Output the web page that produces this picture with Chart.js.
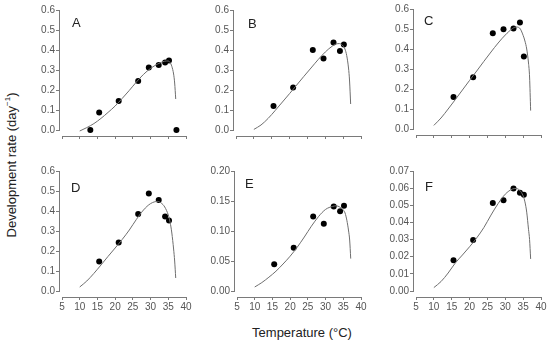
<!DOCTYPE html>
<html>
<head>
<meta charset="utf-8">
<script src="https://cdn.jsdelivr.net/npm/chart.js@4.4.0/dist/chart.umd.min.js"></script>
<style>
  body { margin: 0; background: #fff; width: 550px; height: 343px; position: relative; overflow: hidden;
         font-family: "Liberation Sans", Arial, sans-serif; }
  canvas { position: absolute; }
  .title { position: absolute; white-space: nowrap; font-size: 13px; color: #222; }
  #ytitle { left: 11px; top: 165px; transform: translate(-50%, -50%) rotate(-90deg); }
  #xtitle { left: 302px; top: 332px; transform: translate(-50%, -50%); }
  sup { font-size: 8px; }
</style>
</head>
<body>
<div id="ytitle" class="title">Development rate (day<sup>−1</sup>)</div>
<div id="xtitle" class="title">Temperature (°C)</div>

<script>
// observed temperatures (°C)
const obsTemp = [15.5, 21, 26.5, 29.5, 32.3, 34.1, 35.2];
const obsTempA = [13, 15.5, 21, 26.5, 29.5, 32.3, 34.1, 35.2, 37.3];

// observed development rates
const rateA = [0, 0.087, 0.145, 0.245, 0.313, 0.325, 0.338, 0.347, 0];
const rateB = [0.12, 0.213, 0.40, 0.358, 0.437, 0.395, 0.428];
const rateC = [0.160, 0.259, 0.479, 0.499, 0.502, 0.532, 0.362];
const rateD = [0.147, 0.243, 0.385, 0.488, 0.455, 0.372, 0.352];
const rateE = [0.0444, 0.0722, 0.124, 0.112, 0.141, 0.133, 0.142];
const rateF = [0.0179, 0.0298, 0.0513, 0.0529, 0.0598, 0.0573, 0.0562];

// fitted curves
const fitTemp = [10, 12, 14, 16, 18, 20, 22, 24, 26, 28, 30, 32, 33, 34, 35, 35.5, 36, 36.5, 36.8, 37.1];
const fitA = [-0.005, 0.012, 0.032, 0.058, 0.088, 0.12, 0.158, 0.198, 0.24, 0.278, 0.308, 0.330, 0.338, 0.344, 0.345, 0.338, 0.318, 0.28, 0.235, 0.155];
const fitB = [0.003, 0.025, 0.058, 0.098, 0.14, 0.182, 0.225, 0.268, 0.31, 0.352, 0.39, 0.42, 0.43, 0.432, 0.42, 0.405, 0.372, 0.31, 0.245, 0.13];
const fitC = [0.018, 0.055, 0.1, 0.147, 0.195, 0.243, 0.29, 0.338, 0.385, 0.43, 0.47, 0.502, 0.51, 0.505, 0.468, 0.44, 0.4, 0.33, 0.26, 0.092];
const fitD = [0.02, 0.05, 0.088, 0.13, 0.173, 0.215, 0.258, 0.305, 0.358, 0.405, 0.437, 0.448, 0.44, 0.42, 0.38, 0.345, 0.29, 0.21, 0.15, 0.065];
const fitE = [0.0067, 0.014, 0.023, 0.033, 0.045, 0.058, 0.073, 0.09, 0.108, 0.124, 0.136, 0.141, 0.142, 0.14, 0.135, 0.13, 0.118, 0.1, 0.085, 0.054];
const fitF = [0.002, 0.0055, 0.0105, 0.0163, 0.021, 0.0258, 0.031, 0.037, 0.0443, 0.051, 0.0565, 0.0595, 0.0598, 0.0588, 0.0555, 0.052, 0.046, 0.036, 0.03, 0.0187];

// y axis ranges
const yMaxes = [0.6, 0.6, 0.6, 0.6, 0.2, 0.07];
const ySteps = [0.1, 0.1, 0.1, 0.1, 0.05, 0.01];
const yDecimals = [1, 1, 1, 1, 2, 2];
const letters = ['A', 'B', 'C', 'D', 'E', 'F'];

const panels = [
  { t: obsTempA, r: rateA, f: fitA, axisX: 59, x5: 62, x40: 186, yTop: 10, y0: 130, xAxis: 136, showX: false, lx: 13, ly: 13 },
  { t: obsTemp, r: rateB, f: fitB, axisX: 233, x5: 236, x40: 361, yTop: 10, y0: 130, xAxis: 136, showX: false, lx: 15, ly: 14 },
  { t: obsTemp, r: rateC, f: fitC, axisX: 413, x5: 416, x40: 541, yTop: 9, y0: 129, xAxis: 135, showX: false, lx: 11, ly: 12 },
  { t: obsTemp, r: rateD, f: fitD, axisX: 59, x5: 62, x40: 186, yTop: 171, y0: 291, xAxis: 297, showX: true, lx: 12, ly: 17 },
  { t: obsTemp, r: rateE, f: fitE, axisX: 234, x5: 237, x40: 361, yTop: 171, y0: 291, xAxis: 297, showX: true, lx: 11, ly: 13 },
  { t: obsTemp, r: rateF, f: fitF, axisX: 413, x5: 416, x40: 541, yTop: 171, y0: 291, xAxis: 297, showX: true, lx: 12, ly: 16 }
];

const AXIS = '#7a7a7a';
const TICKTXT = '#555';
const Wy = 34, Hx = 22, padT = 12, padR = 10;

// detached axis lines + panel letter
const frame = {
  id: 'frame',
  afterDraw(chart, args, opts) {
    const { ctx, chartArea, scales: { x, y } } = chart;
    ctx.save();
    ctx.strokeStyle = AXIS;
    ctx.lineWidth = 1;
    ctx.beginPath();
    const ax = Math.round(chartArea.left) + 0.5;
    ctx.moveTo(ax, Math.round(y.getPixelForValue(opts.ymax)));
    ctx.lineTo(ax, Math.round(y.getPixelForValue(0)) + 1);
    const ay = Math.round(chartArea.bottom) + 0.5;
    ctx.moveTo(Math.round(x.getPixelForValue(5)), ay);
    ctx.lineTo(Math.round(x.getPixelForValue(40)) + 1, ay);
    ctx.stroke();
    ctx.fillStyle = '#222';
    ctx.font = '13px "Liberation Sans", Arial, sans-serif';
    ctx.textBaseline = 'middle';
    ctx.fillText(opts.letter, chartArea.left + opts.lx, chartArea.top + opts.ly);
    ctx.restore();
  }
};

panels.forEach((p, i) => {
  const ymax = yMaxes[i];
  const ppu = (p.x40 - p.x5) / 35;
  const xmin = 5 - (p.x5 - p.axisX) / ppu;
  const ppv = (p.y0 - p.yTop) / ymax;
  const ymin = -(p.xAxis - p.y0) / ppv;

  const cv = document.createElement('canvas');
  const w = Wy + (p.x40 - p.axisX) + padR;
  const h = padT + (p.xAxis - p.yTop) + Hx;
  cv.width = w; cv.height = h;
  cv.style.left = (p.axisX - Wy) + 'px';
  cv.style.top = (p.yTop - padT) + 'px';
  document.body.appendChild(cv);

  new Chart(cv, {
    type: 'scatter',
    data: {
      datasets: [
        {
          data: fitTemp.map((t, k) => ({ x: t, y: p.f[k] })),
          showLine: true,
          borderColor: '#6e6e6e',
          borderWidth: 1,
          pointRadius: 0,
          cubicInterpolationMode: 'monotone'
        },
        {
          data: p.t.map((t, k) => ({ x: t, y: p.r[k] })),
          backgroundColor: '#000',
          borderColor: '#000',
          pointRadius: 3,
          borderWidth: 0
        }
      ]
    },
    options: {
      responsive: false,
      animation: false,
      layout: { padding: { top: padT, right: padR, left: 0, bottom: 0 } },
      plugins: {
        legend: { display: false },
        tooltip: { enabled: false },
        frame: { ymax: ymax, letter: letters[i], lx: p.lx, ly: p.ly }
      },
      scales: {
        x: {
          type: 'linear',
          min: xmin,
          max: 40,
          afterBuildTicks: s => { s.ticks = s.ticks.filter(t => t.value >= 5 - 1e-6); },
          afterFit: s => { s.height = Hx; },
          ticks: {
            stepSize: 5,
            includeBounds: false,
            padding: 1,
            color: TICKTXT,
            font: { size: 10, family: '"Liberation Sans", Arial, sans-serif' },
            maxRotation: 0,
            autoSkip: false,
            callback: v => p.showX ? String(v) : ''
          },
          grid: { drawOnChartArea: false, drawTicks: true, tickLength: 3, color: AXIS },
          border: { display: false }
        },
        y: {
          min: ymin,
          max: ymax,
          afterBuildTicks: s => { s.ticks = s.ticks.filter(t => t.value >= -1e-6); },
          afterFit: s => { s.width = Wy; },
          ticks: {
            stepSize: ySteps[i],
            includeBounds: false,
            padding: 1,
            color: TICKTXT,
            font: { size: 10, family: '"Liberation Sans", Arial, sans-serif' },
            autoSkip: false,
            callback: v => Number(v).toFixed(yDecimals[i])
          },
          grid: { drawOnChartArea: false, drawTicks: true, tickLength: 3, color: AXIS },
          border: { display: false }
        }
      }
    },
    plugins: [frame]
  });
});
</script>
</body>
</html>
